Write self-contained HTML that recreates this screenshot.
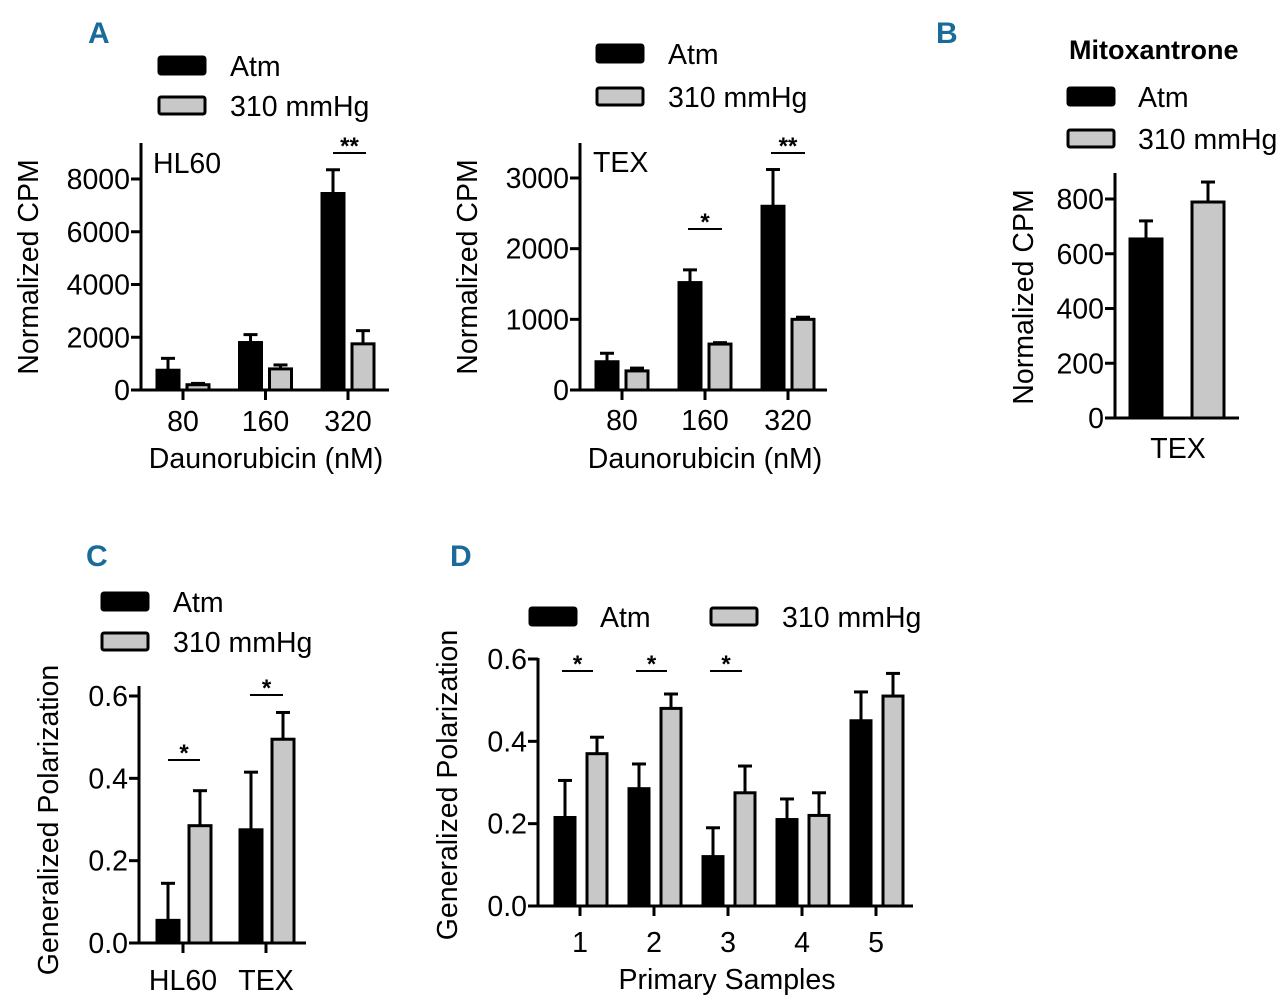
<!DOCTYPE html>
<html><head><meta charset="utf-8"><style>
html,body{margin:0;padding:0;background:#fff;}
svg{display:block;font-family:"Liberation Sans",sans-serif;}
</style></head><body>
<svg id="fig" width="1280" height="1003" viewBox="0 0 1280 1003">
<g font-family="'Liberation Sans Narrow','Liberation Sans',sans-serif" font-weight="bold" font-size="30" fill="#1a6b9a">
<text x="88" y="43">A</text>
<text x="936" y="43">B</text>
<text x="86" y="566">C</text>
<text x="450" y="566">D</text>
</g>
<text x="1069" y="59" font-size="27" font-weight="bold">Mitoxantrone</text>
</svg>
<script>
// Panel A1 HL60
const hlCats = ["80","160","320"];
const hlAtm = [750,1800,7450];
const hlAtmErr = [450,300,900];
const hlHyp = [200,800,1750];
const hlHypErr = [50,150,500];
const hlTicks = [0,2000,4000,6000,8000];
// Panel A2 TEX
const texCats = ["80","160","320"];
const texAtm = [400,1520,2600];
const texAtmErr = [120,180,520];
const texHyp = [270,650,1000];
const texHypErr = [40,20,30];
const texTicks = [0,1000,2000,3000];
// Panel B
const mitoCats = ["TEX"];
const mitoAtm = [654];
const mitoAtmErr = [66];
const mitoHyp = [789];
const mitoHypErr = [73];
const mitoTicks = [0,200,400,600,800];
// Panel C
const gpCats = ["HL60","TEX"];
const gpAtm = [0.055,0.275];
const gpAtmErr = [0.09,0.14];
const gpHyp = [0.285,0.495];
const gpHypErr = [0.085,0.065];
const gpTicks = [0,0.2,0.4,0.6];
// Panel D
const psCats = ["1","2","3","4","5"];
const psAtm = [0.215,0.285,0.12,0.21,0.45];
const psAtmErr = [0.09,0.06,0.07,0.05,0.07];
const psHyp = [0.37,0.48,0.275,0.22,0.51];
const psHypErr = [0.04,0.035,0.065,0.055,0.055];
const psTicks = [0,0.2,0.4,0.6];

const NS="http://www.w3.org/2000/svg";
const svg=document.getElementById('fig');
const FS=28.5;
function el(tag,attrs,parent){const e=document.createElementNS(NS,tag);for(const k in attrs)e.setAttribute(k,attrs[k]);(parent||svg).appendChild(e);return e;}
function txt(s,x,y,attrs,parent){const t=el('text',Object.assign({x:x,y:y,'font-size':FS},attrs),parent);t.textContent=s;return t;}

function panel(p){
  const g=el('g',{});
  
  
  const ys=v=>p.y0-(v/p.ymax)*(p.y0-p.ytop);
  const xs=i=>p.c0+i*p.step;
  const ya=el('line',{x1:p.ax,y1:p.axTop,x2:p.ax,y2:p.y0+1.5,stroke:'#000','stroke-width':3},g);
  
  
  const xa=el('line',{x1:p.ax-1.5,y1:p.y0,x2:p.axEnd,y2:p.y0,stroke:'#000','stroke-width':3},g);
  
  
  p.ticks.forEach(t=>{
    el('line',{x1:p.ax-10,y1:ys(t),x2:p.ax,y2:ys(t),stroke:'#000','stroke-width':3},g);
    const tl=txt(p.fmt(t),p.ax-11,ys(t)+10,{'text-anchor':'end'},g);
    
    
  });
  p.cats.forEach((c,i)=>{
    if(p.xticks) el('line',{x1:xs(i),y1:p.y0,x2:xs(i),y2:p.y0+10,stroke:'#000','stroke-width':3},g);
    const cl=txt(c,xs(i),p.y0+p.xlo,{'text-anchor':'middle'},g);
    
    
    [[p.atm,p.atmErr,'#000',p.bo1,'bar-atm'],[p.hyp,p.hypErr,'#c8c8c8',p.bo2,'bar-310mmhg']].forEach(s=>{
      const v=s[0][i],e=s[1][i],x=xs(i)+s[3],w=p.bw;
      el('line',{x1:x+w/2,y1:ys(v),x2:x+w/2,y2:ys(v+e),stroke:'#000','stroke-width':3},g);
      el('line',{x1:x+w/2-7,y1:ys(v+e),x2:x+w/2+7,y2:ys(v+e),stroke:'#000','stroke-width':3},g);
      if(p.lowErr && s[2]!=='#000'){
        el('line',{x1:x+w/2,y1:ys(v),x2:x+w/2,y2:ys(v-e),stroke:'#000','stroke-width':3},g);
        el('line',{x1:x+w/2-7,y1:ys(v-e),x2:x+w/2+7,y2:ys(v-e),stroke:'#000','stroke-width':3},g);
      }
      const r=el('rect',{x:x,y:ys(v),width:w,height:p.y0-ys(v),fill:s[2],stroke:'#000','stroke-width':3},g);
      
      
    });
  });
  (p.sig||[]).forEach(s=>{
    el('line',{x1:s[0],y1:s[2],x2:s[1],y2:s[2],stroke:'#000','stroke-width':2},g);
    const st=txt(s[3],(s[0]+s[1])/2,s[2]+1,{'text-anchor':'middle','font-size':24,'font-weight':'bold'},g);
    
    
  });
  const yt=txt(p.ytitle,0,0,{'text-anchor':'middle',transform:`translate(${p.ytx},${p.yty}) rotate(-90)`},g);
  
  
  if(p.xtitle){const xt=txt(p.xtitle,p.xtx,p.y0+p.xto,{'text-anchor':'middle'},g);
    
    }
  if(p.label){const l=txt(p.label,p.lx,p.ly,{},g);
    
    }
  p.leg.forEach((L,k)=>{
    const r=el('rect',{x:L[0],y:L[1],width:46,height:17,fill:k?'#c8c8c8':'#000',stroke:'#000','stroke-width':3,rx:2},g);
    
    
    const t=txt(k?'310 mmHg':'Atm',L[2],L[1]+19,{},g);
    
    
  });
}
const f0=t=>String(t), f1=t=>t.toFixed(1);
panel({name:'panel-a-hl60',cats:hlCats,atm:hlAtm,atmErr:hlAtmErr,hyp:hlHyp,hypErr:hlHypErr,ticks:hlTicks,fmt:f0,
 ax:141,axTop:143,axEnd:389,y0:390,ytop:179,ymax:8000,c0:183,step:82.5,bw:22,bo1:-26,bo2:4,xticks:true,xlo:41,xto:78,
 sig:[[333,366,153,'**']],ytitle:'Normalized CPM',ytx:38,yty:267,xtitle:'Daunorubicin (nM)',xtx:266,
 label:'HL60',lx:153,ly:173,leg:[[159,57,230],[159,97,230]]});
panel({name:'panel-a-tex',cats:texCats,atm:texAtm,atmErr:texAtmErr,hyp:texHyp,hypErr:texHypErr,ticks:texTicks,fmt:f0,
 ax:580,axTop:143,axEnd:827,y0:390,ytop:178,ymax:3000,c0:622,step:83,bw:22,bo1:-26,bo2:4,xticks:true,xlo:40,xto:78,
 sig:[[688,722,229,'*'],[771,805,153,'**']],ytitle:'Normalized CPM',ytx:477,yty:267,xtitle:'Daunorubicin (nM)',xtx:705,
 label:'TEX',lx:593,ly:172,leg:[[597,45,668],[597,88,668]]});
panel({name:'panel-b-mitoxantrone',cats:mitoCats,atm:mitoAtm,atmErr:mitoAtmErr,hyp:mitoHyp,hypErr:mitoHypErr,ticks:mitoTicks,fmt:f0,
 ax:1115,axTop:173,axEnd:1239,y0:418,ytop:199,ymax:800,c0:1178,step:0,bw:32,bo1:-48,bo2:14,xticks:false,lowErr:true,xlo:40,
 ytitle:'Normalized CPM',ytx:1033,yty:297,leg:[[1068,88,1138],[1068,130,1138]]});
panel({name:'panel-c-gp',cats:gpCats,atm:gpAtm,atmErr:gpAtmErr,hyp:gpHyp,hypErr:gpHypErr,ticks:gpTicks,fmt:f1,
 ax:139,axTop:686,axEnd:306,y0:943,ytop:696,ymax:0.6,c0:183,step:83,bw:22,bo1:-26,bo2:6,xticks:true,xlo:47,
 sig:[[168,200,760,'*'],[250,283,695,'*']],ytitle:'Generalized Polarization',ytx:58,yty:820,
 leg:[[102,593,173],[102,633,173]]});
panel({name:'panel-d-primary',cats:psCats,atm:psAtm,atmErr:psAtmErr,hyp:psHyp,hypErr:psHypErr,ticks:psTicks,fmt:f1,
 ax:538,axTop:658,axEnd:913,y0:906,ytop:659,ymax:0.6,c0:580,step:74,bw:20,bo1:-25,bo2:7,xticks:true,xlo:46,xto:83,
 sig:[[562,593,671,'*'],[636,667,671,'*'],[710,742,671,'*']],ytitle:'Generalized Polarization',ytx:457,yty:785,
 xtitle:'Primary Samples',xtx:727,leg:[[530,608,600],[711,608,782]]});
</script>
</body></html>
